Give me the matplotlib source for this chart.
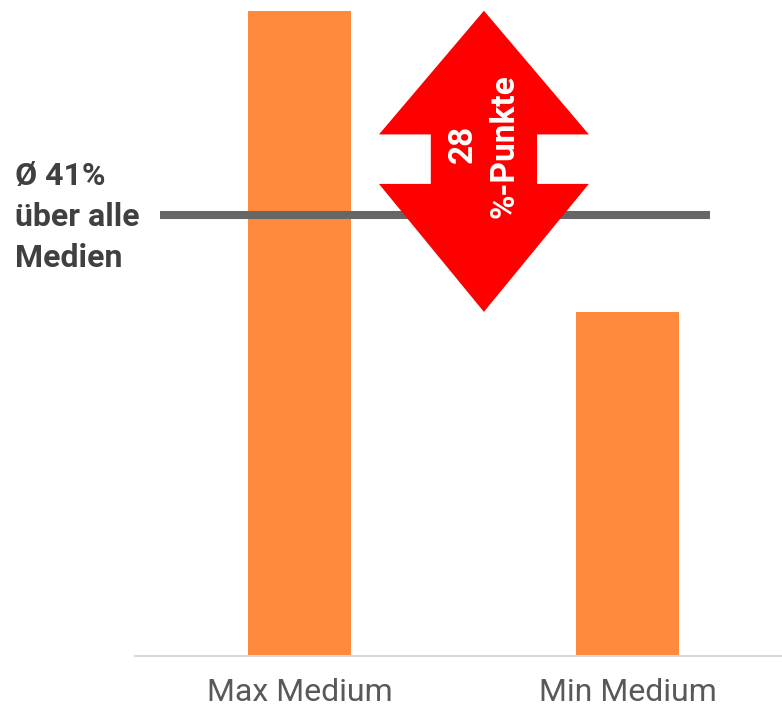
import matplotlib
matplotlib.use("Agg")
import matplotlib.pyplot as plt
from matplotlib.patches import Polygon

plt.rcParams['font.family'] = ['Roboto', 'DejaVu Sans']

categories = ["Max Medium", "Min Medium"]
values = [60, 32]
average = 41
diff_label = "28"
diff_unit = "%-Punkte"
avg_label = "Ø 41%\nüber alle\nMedien"

bar_color = "#FF8A3D"
W, H = 782, 709
fig = plt.figure(figsize=(W / 100, H / 100), dpi=100)
ax = fig.add_axes([135 / W, 53 / H, 1 - 135 / W, 656 / H])

x = list(range(len(categories)))
ax.bar(x, values, width=0.314, color=bar_color, zorder=2)
ax.set_xlim(-0.503, 1.47)
ax.set_ylim(0, 61)

# average line
ax.axhline(average, xmin=(160 - 135) / 647, xmax=(710 - 135) / 647,
           color="#666666", lw=5.8, zorder=3, solid_capstyle="butt")

# double arrow between min and max
cx = 0.561
hw, sw = 0.32, 0.162
top, bot = max(values), min(values)
head_top_base = 48.5
head_bot_base = 43.9
pts = [(cx, top), (cx + hw, head_top_base), (cx + sw, head_top_base),
       (cx + sw, head_bot_base), (cx + hw, head_bot_base), (cx, bot),
       (cx - hw, head_bot_base), (cx - sw, head_bot_base),
       (cx - sw, head_top_base), (cx - hw, head_top_base)]
ax.add_patch(Polygon(pts, closed=True, facecolor="#FF0000", edgecolor="none", zorder=4))
ax.text(cx - 0.063, 47.6, diff_label, rotation=90, color="white", fontsize=24,
        fontweight="bold", ha="center", va="center", zorder=5)
ax.text(cx + 0.062, 47.4, diff_unit, rotation=90, color="white", fontsize=24,
        fontweight="bold", ha="center", va="center", zorder=5)

fig.text(15 / W, 1 - 217 / H, avg_label, ha="left", va="center", fontsize=23,
         fontweight="bold", color="#404040", linespacing=1.45)

for s in ["top", "right", "left"]:
    ax.spines[s].set_visible(False)
ax.spines["bottom"].set_color("#D9D9D9")
ax.spines["bottom"].set_linewidth(1.5)
ax.set_yticks([])
ax.set_xticks(x)
ax.set_xticklabels(categories, fontsize=23, color="#595959")
ax.tick_params(axis="x", length=0, pad=16)

fig.savefig("out.png", dpi=100)
